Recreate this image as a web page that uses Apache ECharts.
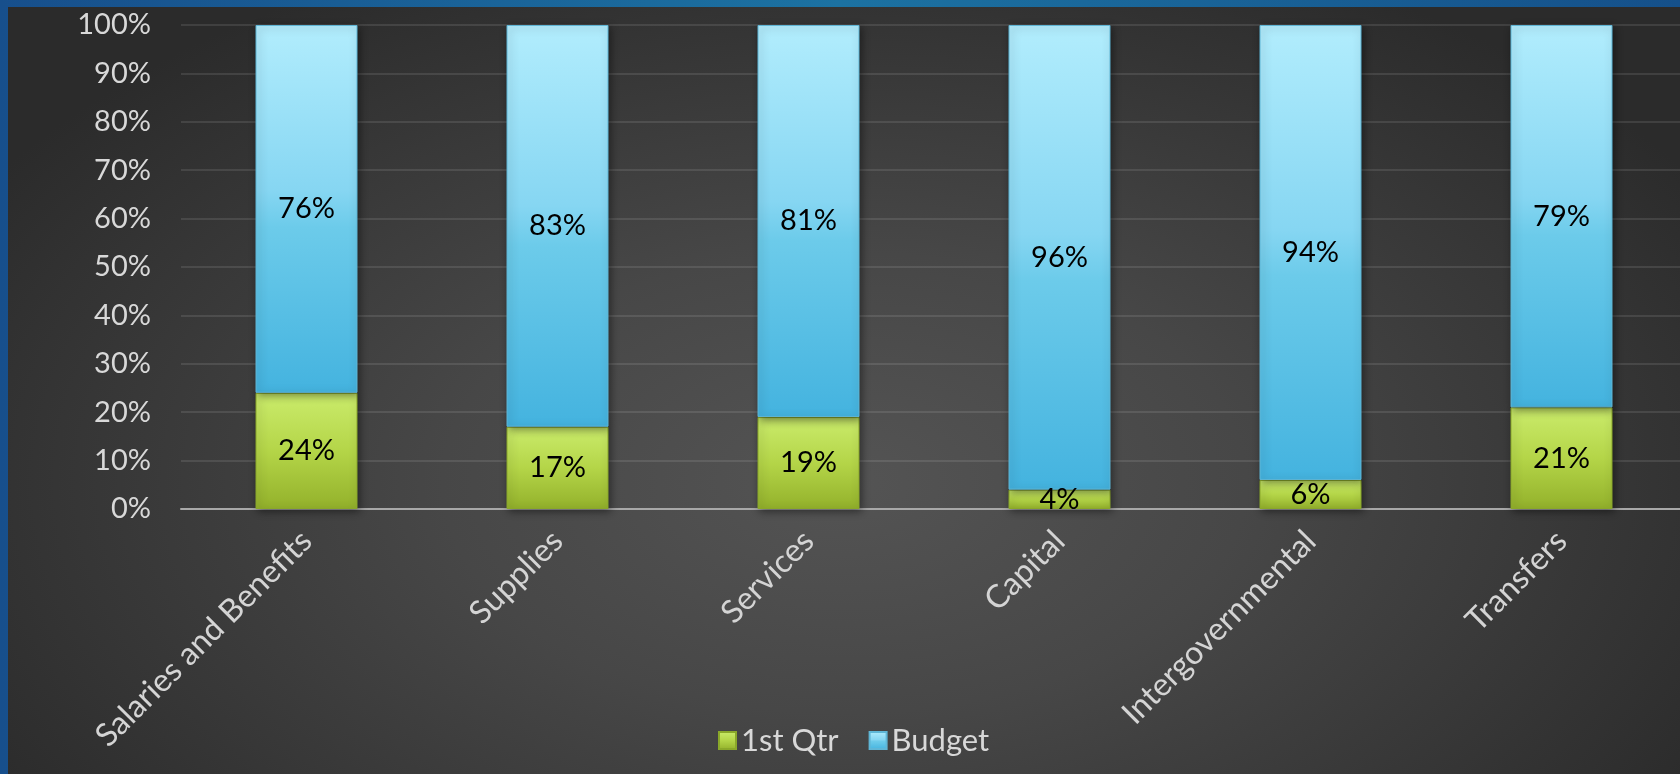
<!DOCTYPE html>
<html>
<head>
<meta charset="utf-8">
<script src="https://cdn.jsdelivr.net/npm/echarts@6/dist/echarts.min.js"></script>
<style>
  html, body { margin: 0; padding: 0; }
  body {
    width: 1680px; height: 774px; overflow: hidden;
    background: linear-gradient(90deg, #174f8c, #1c72a2 50%, #15508a);
  }
  #chart {
    position: absolute; left: 8px; top: 7px; width: 1672px; height: 767px;
    background: radial-gradient(ellipse 60% 75% at 50% 62%, #545454 0%, #474747 40%, #2b2b2b 100%);
  }
</style>
</head>
<body>
<div id="chart"></div>
<script>
const categories = ["Salaries and Benefits", "Supplies", "Services", "Capital", "Intergovernmental", "Transfers"];
const qtr1 = [24, 17, 19, 4, 6, 21];
const budget = [76, 83, 81, 96, 94, 79];
const seriesNames = ["1st Qtr", "Budget"];

const FONT = "Lato, 'Open Sans', sans-serif";

const green = new echarts.graphic.LinearGradient(0, 0, 0, 1, [
  { offset: 0, color: "#cbec6c" },
  { offset: 0.5, color: "#b4d548" },
  { offset: 1, color: "#93b12b" },
]);
const blue = new echarts.graphic.LinearGradient(0, 0, 0, 1, [
  { offset: 0, color: "#b2edfd" },
  { offset: 0.45, color: "#86d6f2" },
  { offset: 0.55, color: "#6ccbea" },
  { offset: 1, color: "#44b3df" },
]);

const barStyle = (color, border) => ({
  color,
  borderColor: border,
  borderWidth: 1,
  shadowColor: "rgba(0,0,0,0.45)",
  shadowBlur: 8,
  shadowOffsetX: 2,
  shadowOffsetY: 2,
});

const chart = echarts.init(document.getElementById("chart"));

chart.setOption({
  animation: false,
  textStyle: { fontFamily: FONT },
  grid: { left: 173, right: -7, top: 18, bottom: 265, outerBoundsMode: "none" },
  legend: {
    data: seriesNames,
    left: 705,
    top: 713,
    itemWidth: 17,
    itemHeight: 17,
    itemGap: 30,
    icon: "rect",
    textStyle: { color: "#d8d8d8", fontSize: 31, fontFamily: FONT },
  },
  xAxis: {
    type: "category",
    data: categories,
    axisLine: { lineStyle: { color: "#a8a8a8", width: 2 } },
    axisTick: { show: false },
    axisLabel: {
      rotate: 45,
      interval: 0,
      margin: 27,
      color: "#d4d4d4",
      fontSize: 32,
      fontFamily: FONT,
    },
  },
  yAxis: {
    type: "value",
    min: 0,
    max: 100,
    interval: 10,
    axisLine: { show: false },
    axisTick: { show: false },
    axisLabel: {
      formatter: "{value}%",
      color: "#d8d8d8",
      fontSize: 29,
      margin: 30,
      fontFamily: FONT,
    },
    splitLine: { lineStyle: { color: "rgba(255,255,255,0.1)", width: 2 } },
  },
  series: [
    {
      name: seriesNames[0],
      type: "bar",
      stack: "total",
      barWidth: 102,
      data: qtr1,
      itemStyle: barStyle(green, "#8aa82a"),
      label: {
        show: true,
        position: "inside",
        formatter: "{c}%",
        color: "#000",
        fontSize: 29,
        fontFamily: FONT,
      },
    },
    {
      name: seriesNames[1],
      type: "bar",
      stack: "total",
      barWidth: 102,
      data: budget,
      itemStyle: barStyle(blue, "#5fb6d6"),
      label: {
        show: true,
        position: "inside",
        formatter: "{c}%",
        color: "#000",
        fontSize: 29,
        fontFamily: FONT,
      },
    },
  ],
});
</script>
</body>
</html>
